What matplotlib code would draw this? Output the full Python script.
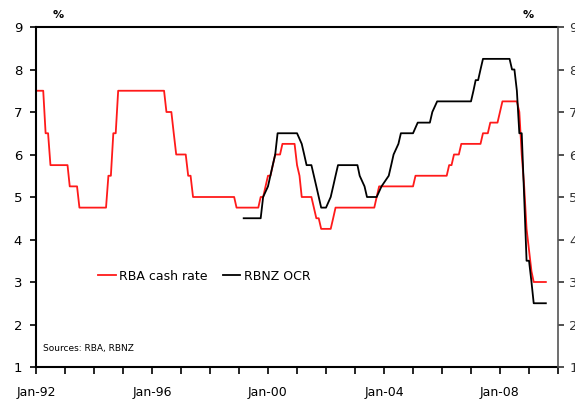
import numpy as np
import matplotlib
matplotlib.use("Agg")
import matplotlib.pyplot as plt

rba_dates = ["1992-01", "1992-04", "1992-05", "1992-06", "1992-07", "1993-02", "1993-03", "1993-06",
             "1993-07", "1994-06", "1994-07", "1994-08", "1994-09", "1994-10", "1994-11", "1996-06",
             "1996-07", "1996-09", "1996-10", "1996-11", "1997-03", "1997-04", "1997-05", "1997-06",
             "1998-11", "1998-12", "1999-09", "1999-10", "1999-11", "2000-01", "2000-02", "2000-04",
             "2000-06", "2000-07", "2000-12", "2001-01", "2001-02", "2001-03", "2001-07", "2001-08",
             "2001-09", "2001-10", "2001-11", "2002-03", "2002-04", "2002-05", "2003-09", "2003-10",
             "2003-11", "2005-01", "2005-02", "2006-03", "2006-04", "2006-05", "2006-06", "2006-08",
             "2006-09", "2007-05", "2007-06", "2007-08", "2007-09", "2007-12", "2008-01", "2008-02",
             "2008-08", "2008-09", "2008-10", "2008-11", "2008-12", "2009-01", "2009-02", "2009-03",
             "2009-08"]
rba_values = [7.5, 7.5, 6.5, 6.5, 5.75, 5.75, 5.25, 5.25,
              4.75, 4.75, 5.5, 5.5, 6.5, 6.5, 7.5, 7.5,
              7.0, 7.0, 6.5, 6.0, 6.0, 5.5, 5.5, 5.0,
              5.0, 4.75, 4.75, 5.0, 5.0, 5.5, 5.5, 6.0,
              6.0, 6.25, 6.25, 5.75, 5.5, 5.0, 5.0, 4.75,
              4.5, 4.5, 4.25, 4.25, 4.5, 4.75, 4.75, 5.0,
              5.25, 5.25, 5.5, 5.5, 5.75, 5.75, 6.0, 6.0,
              6.25, 6.25, 6.5, 6.5, 6.75, 6.75, 7.0, 7.25,
              7.25, 7.0, 6.0, 5.25, 4.25, 3.75, 3.25, 3.0,
              3.0]

rbnz_dates = ["1999-03", "1999-10", "1999-11", "2000-01", "2000-03", "2000-04", "2000-05", "2001-01",
              "2001-03", "2001-04", "2001-05", "2001-07", "2001-09", "2001-11", "2002-01", "2002-03",
              "2002-04", "2002-05", "2002-06", "2003-02", "2003-03", "2003-05", "2003-06", "2003-10",
              "2003-12", "2004-03", "2004-04", "2004-05", "2004-07", "2004-08", "2005-01", "2005-03",
              "2005-08", "2005-09", "2005-11", "2007-01", "2007-02", "2007-03", "2007-04", "2007-05",
              "2007-06", "2008-05", "2008-06", "2008-07", "2008-08", "2008-09", "2008-10", "2008-11",
              "2008-12", "2009-01", "2009-02", "2009-03", "2009-08"]
rbnz_values = [4.5, 4.5, 5.0, 5.25, 5.75, 6.0, 6.5, 6.5,
               6.25, 6.0, 5.75, 5.75, 5.25, 4.75, 4.75, 5.0,
               5.25, 5.5, 5.75, 5.75, 5.5, 5.25, 5.0, 5.0,
               5.25, 5.5, 5.75, 6.0, 6.25, 6.5, 6.5, 6.75,
               6.75, 7.0, 7.25, 7.25, 7.5, 7.75, 7.75, 8.0,
               8.25, 8.25, 8.0, 8.0, 7.5, 6.5, 6.5, 5.0,
               3.5, 3.5, 3.0, 2.5, 2.5]

tick_years = list(range(1992, 2011))
label_years = [1992, 1996, 2000, 2004, 2008]
y_ticks = [1, 2, 3, 4, 5, 6, 7, 8, 9]

rba_x = np.array(rba_dates, dtype="datetime64[D]")
rbnz_x = np.array(rbnz_dates, dtype="datetime64[D]")

fig = plt.figure(figsize=(5.75, 4.05), dpi=100)
ax = fig.add_axes([36/575, 1-367/405, 522/575, 340/405])

l1, = ax.plot(rba_x, rba_values, color="#ff1a1a", lw=1.3, label="RBA cash rate")
l2, = ax.plot(rbnz_x, rbnz_values, color="black", lw=1.3, label="RBNZ OCR")

ax.set_xlim(np.datetime64("1992-01-01"), np.datetime64("2010-01-01"))
ax.set_ylim(1, 9)
tick_pos = [np.datetime64(f"{y}-01-01") for y in tick_years]
ax.set_xticks(tick_pos)
ax.set_xticklabels([f"Jan-{str(y)[2:]}" if y in label_years else "" for y in tick_years], fontsize=9)
ax.set_yticks(y_ticks)
ax.set_yticklabels([str(v) for v in y_ticks], fontsize=9.5)
ax.tick_params(axis="x", direction="out", length=5, width=1.2, pad=9)
ax.tick_params(axis="y", direction="out", length=4, width=1.2, pad=6)

for s in ["top", "left", "bottom"]:
    ax.spines[s].set_linewidth(1.5)
    ax.spines[s].set_color("black")
ax.spines["right"].set_visible(False)

ax2 = ax.twinx()
ax2.set_ylim(1, 9)
ax2.set_yticks(y_ticks)
ax2.set_yticklabels([str(v) for v in y_ticks], fontsize=9.5)
ax2.tick_params(axis="y", direction="out", length=4, width=1.2, pad=4, colors="#333333")
for s in ["top", "left", "bottom"]:
    ax2.spines[s].set_visible(False)
ax2.spines["right"].set_linewidth(1.2)
ax2.spines["right"].set_color("#555555")

fig.text(58/575, 1-15/405, "%", fontsize=8, ha="center", va="center", fontweight="bold")
fig.text(528/575, 1-15/405, "%", fontsize=8, ha="center", va="center", fontweight="bold")

ax.legend(handles=[l1, l2], loc="center left", bbox_to_anchor=((98-36)/522, (367-276)/340),
          ncol=2, frameon=False, fontsize=9, handlelength=1.4, handletextpad=0.3,
          columnspacing=1.2, borderpad=0, borderaxespad=0)

ax.text((43-36)/522, (367-348)/340, "Sources: RBA, RBNZ", transform=ax.transAxes,
        fontsize=6.5, ha="left", va="center")

fig.savefig("out.png", dpi=100)
